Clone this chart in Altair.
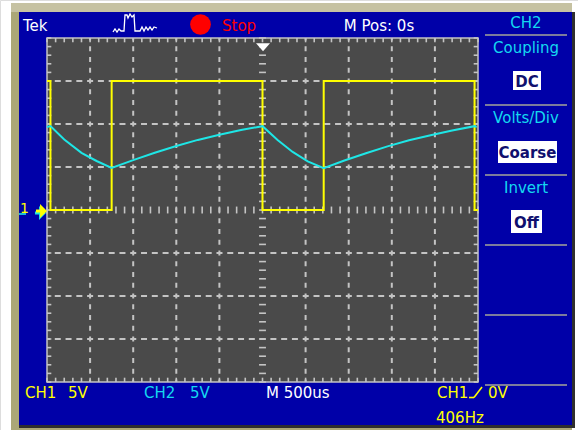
import altair as alt
import pandas as pd

# ---------------------------------------------------------------------------
# Waveform data, in screen divisions (10 horizontal x 8 vertical divisions)
# ---------------------------------------------------------------------------
# CH1: square wave, level held until the next edge
ch1_time = [-5.0, -4.92, -3.50, 0.0, 1.42, 4.92, 5.0]
ch1_level = [3, 0, 3, 0, 3, 0, 0]

# CH2: RC response to the square wave
ch2_time = [-5.0, -4.92, -4.6, -4.2, -3.85, -3.5, -3.0, -2.5, -2.0, -1.5, -1.0, -0.5,
            0.0, 0.35, 0.7, 1.05, 1.42, 1.9, 2.4, 2.9, 3.4, 3.9, 4.4, 4.92, 4.97]
ch2_level = [1.93, 1.95, 1.64, 1.33, 1.14, 0.98, 1.16, 1.33, 1.49, 1.63, 1.75, 1.86,
             1.95, 1.63, 1.35, 1.13, 0.97, 1.15, 1.32, 1.48, 1.62, 1.74, 1.85, 1.95, 1.93]

# Graticule
grid_x = [-4, -3, -2, -1, 1, 2, 3, 4]
grid_y = [-3, -2, -1, 1, 2, 3]
minor_x = [round(-5 + 0.2 * i, 1) for i in range(51)]
minor_y = [round(-4 + 0.2 * i, 1) for i in range(41)]

# Screen texts
top_texts = ["Tek", "Stop", "M Pos: 0s"]
menu_title = "CH2"
menu_items = ["Coupling", "Volts/Div", "Invert"]
menu_values = ["DC", "Coarse", "Off"]
ch1_readout = ["CH1", "5V"]
ch2_readout = ["CH2", "5V"]
timebase = "M 500us"
trigger_readout = ["CH1", "0V"]
frequency = "406Hz"

# ---------------------------------------------------------------------------
FONT = "DejaVu Sans"
BLUE = "#0000a8"
SCREEN = "#4a4a4a"
GRID = "#c4c4c4"
YELLOW = "#ffff00"
CYAN = "#1ee6e6"
CYAN_TXT = "#14d8f0"
RED = "#ff0000"
NAVY = "#10106e"
SEP = "#7c7c9c"

xs = alt.Scale(domain=[-5, 5], range=[47, 478], nice=False, zero=False)
ys = alt.Scale(domain=[-4, 4], range=[382, 38], nice=False, zero=False)

one = alt.Data(values=[{"k": 0}])


def xf(field):
    return alt.X(field, type="quantitative", scale=xs, axis=None)


def yf(field):
    return alt.Y(field, type="quantitative", scale=ys, axis=None)


def xd(v):
    return alt.XDatum(v, type="quantitative", scale=xs, axis=None)


def yd(v):
    return alt.YDatum(v, type="quantitative", scale=ys, axis=None)


def box(x, x2, y, y2, color):
    return alt.Chart(one).mark_rect(color=color, opacity=1).encode(
        x=alt.value(x), x2=alt.value(x2), y=alt.value(y), y2=alt.value(y2))


def label(text, x, y, color, align="left", size=15, weight="normal", baseline="alphabetic"):
    return alt.Chart(one).mark_text(
        text=text, align=align, baseline=baseline, font=FONT, fontSize=size,
        fontWeight=weight, color=color).encode(x=alt.value(x), y=alt.value(y))


def glyph(path, x, y, size, color, filled=True, stroke_width=1.0):
    return alt.Chart(one).mark_point(
        shape=path, size=size, filled=filled, color=color, opacity=1,
        strokeWidth=stroke_width).encode(x=alt.value(x), y=alt.value(y))


def hline(x, x2, y, color, width=2.0):
    return alt.Chart(one).mark_rule(color=color, strokeWidth=width).encode(
        x=alt.value(x), x2=alt.value(x2), y=alt.value(y))


layers = []

# Bezel and panel
layers.append(box(11, 572, 3, 430, "#aba777"))
layers.append(box(11, 572, 3, 12, "#c6c2a2"))
layers.append(box(19, 572, 12, 425, BLUE))
layers.append(box(572, 575, 12, 428, "#2e2e2e"))
layers.append(box(19, 575, 425, 428, "#2e2e2e"))

# Screen area
layers.append(alt.Chart(one).mark_rect(color=SCREEN, opacity=1).encode(
    x=xd(-5), x2=alt.X2Datum(5), y=yd(-4), y2=alt.Y2Datum(4)))

# Dashed graticule lines
gx = pd.DataFrame({"g": grid_x})
gy = pd.DataFrame({"g": grid_y})
layers.append(alt.Chart(gy).mark_rule(
    color=GRID, strokeWidth=2, strokeDash=[6, 4.78], strokeDashOffset=3).encode(
    y=yf("g"), x=xd(-5), x2=alt.X2Datum(5)))
layers.append(alt.Chart(gx).mark_rule(
    color=GRID, strokeWidth=2, strokeDash=[5, 5.75], strokeDashOffset=2.5).encode(
    x=xf("g"), y=yd(4), y2=alt.Y2Datum(-4)))

# Minor ticks: border and centre cross
mx = pd.DataFrame({"m": minor_x})
my = pd.DataFrame({"m": minor_y})
tick = dict(color=GRID, strokeWidth=1.6)
layers.append(alt.Chart(mx).mark_rule(**tick).encode(x=xf("m"), y=yd(4), y2=alt.Y2Datum(3.9)))
layers.append(alt.Chart(mx).mark_rule(**tick).encode(x=xf("m"), y=yd(-4), y2=alt.Y2Datum(-3.9)))
layers.append(alt.Chart(my).mark_rule(**tick).encode(y=yf("m"), x=xd(-5), x2=alt.X2Datum(-4.9)))
layers.append(alt.Chart(my).mark_rule(**tick).encode(y=yf("m"), x=xd(5), x2=alt.X2Datum(4.9)))
layers.append(alt.Chart(mx).mark_rule(**tick).encode(x=xf("m"), y=yd(-0.08), y2=alt.Y2Datum(0.08)))
layers.append(alt.Chart(my).mark_rule(**tick).encode(y=yf("m"), x=xd(-0.08), x2=alt.X2Datum(0.08)))

# Screen border
layers.append(alt.Chart(one).mark_rect(fillOpacity=0, stroke=GRID, strokeWidth=1.5).encode(
    x=xd(-5), x2=alt.X2Datum(5), y=yd(-4), y2=alt.Y2Datum(4)))

# Traces
ch1 = pd.DataFrame({"t": ch1_time, "v": ch1_level})
ch2 = pd.DataFrame({"t": ch2_time, "v": ch2_level})
layers.append(alt.Chart(ch1).mark_line(
    color=YELLOW, strokeWidth=2, interpolate="step-after").encode(
    x=xf("t"), y=yf("v"), order="t:Q"))
layers.append(alt.Chart(ch2).mark_line(color=CYAN, strokeWidth=2).encode(
    x=xf("t"), y=yf("v"), order="t:Q"))

# Trigger position marker and ground markers (CH2 marker sits under CH1's)
layers.append(glyph("M-1,-0.55L1,-0.55L0,0.6Z", 263, 47, 196, "white"))
arrow = "M-0.67,-0.2L-0.13,-0.2L-0.13,-0.93L0.8,0L-0.13,0.93L-0.13,0.2L-0.67,0.2Z"
layers.append(glyph(arrow, 40, 213, 225, CYAN))
layers.append(glyph(arrow, 41, 211, 225, YELLOW))
layers.append(hline(19, 26, 214, CYAN, 1.6))
layers.append(label("1", 20, 213, YELLOW, size=14))

# Top status bar
layers.append(label(top_texts[0], 23, 31, "white"))
icon = ("M-1,0.364L-0.909,0.227L-0.818,0.364L-0.727,0.227L-0.636,0.318L-0.5,0.318"
        "L-0.455,-0.409L-0.364,-0.409L-0.318,-0.273L-0.227,-0.455L-0.136,-0.318"
        "L-0.045,-0.409L0,0.318L0.227,0.318L0.318,0.136L0.409,0.318L0.5,0.136"
        "L0.591,0.273L0.682,0.136L0.773,0.273L0.864,0.136L1,0.182")
layers.append(glyph(icon, 135, 24, 1936, "white", filled=False, stroke_width=1.3))
layers.append(glyph("circle", 200.5, 24.5, 430, RED))
layers.append(label(top_texts[1], 222, 31, RED))
layers.append(label(top_texts[2], 379, 31, "white", align="center"))

# Side menu
for y in [35, 105, 175, 245, 315, 385]:
    layers.append(hline(485, 567, y, SEP, 2))
layers.append(label(menu_title, 526, 28, CYAN_TXT, align="center"))
for text, y in zip(menu_items, [53, 123, 193]):
    layers.append(label(text, 526, y, CYAN_TXT, align="center"))
for text, (x, x2, y, y2) in zip(menu_values, [(513, 541, 71, 90), (498, 557, 141, 163), (511, 542, 210, 233)]):
    layers.append(box(x, x2, y, y2, "white"))
    layers.append(label(text, (x + x2) / 2, (y + y2) / 2 + 1, NAVY, align="center",
                        weight="bold", baseline="middle"))

# Bottom readouts
layers.append(label(ch1_readout[0], 25, 398, YELLOW))
layers.append(label(ch1_readout[1], 68, 398, YELLOW))
layers.append(label(ch2_readout[0], 144, 398, CYAN_TXT))
layers.append(label(ch2_readout[1], 190, 398, CYAN_TXT))
layers.append(label(timebase, 266, 398, "white"))
layers.append(label(trigger_readout[0], 437, 398, YELLOW))
layers.append(hline(469, 474, 397.5, YELLOW, 1.6))
layers.append(alt.Chart(one).mark_rule(color=YELLOW, strokeWidth=1.6).encode(
    x=alt.value(474), y=alt.value(397.5), x2=alt.value(482), y2=alt.value(387)))
layers.append(label(trigger_readout[1], 488, 398, YELLOW))
layers.append(label(frequency, 436, 423, YELLOW))

chart = alt.layer(*layers).properties(
    width=578, height=430, autosize=alt.AutoSizeParams(type="none"), padding=0
).configure_view(strokeWidth=0).configure(background="white")

chart.save("out.html", embed_options={"renderer": "svg", "actions": False})
